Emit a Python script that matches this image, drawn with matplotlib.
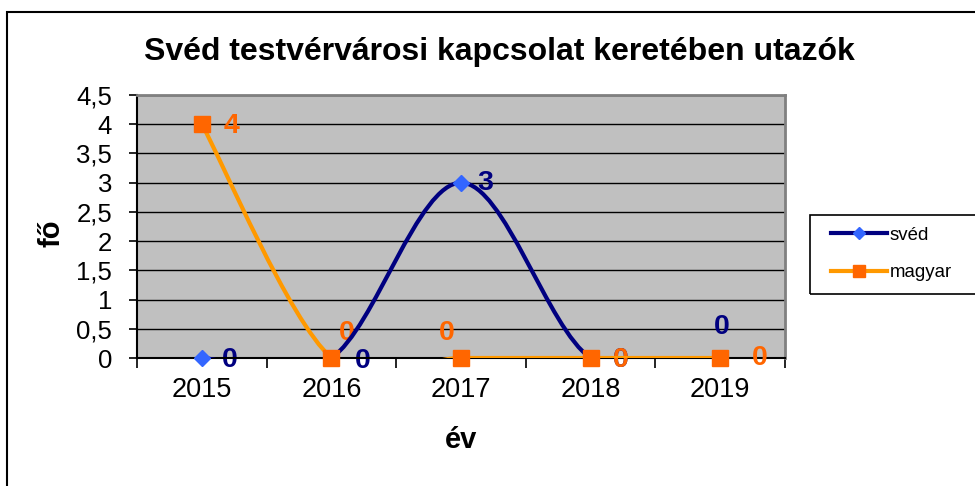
import matplotlib
matplotlib.use("Agg")
import matplotlib.pyplot as plt
from matplotlib.path import Path
from matplotlib.patches import PathPatch, Rectangle
from matplotlib.lines import Line2D
from matplotlib.ticker import FuncFormatter

plt.rcParams['font.family'] = ['Liberation Sans', 'DejaVu Sans']

# adatok
evek = ['2015', '2016', '2017', '2018', '2019']
sved = [0, 0, 3, 0, 0]
magyar = [4, 0, 0, 0, 0]

# feliratok eltolása (pixel)
sved_offsets = [(28, -2), (31, -3), (24, 0), (30, -2), (2, 31)]
magyar_offsets = [(30, -2), (15, 25), (-14, 25), (30, -2), (40, 0)]

W, H = 975, 486


def fx(x):
    return x / W


def fy(y):
    return 1 - y / H


def smooth_path(xs, ys):
    # Excel-szerű simított vonal (Catmull-Rom -> Bezier)
    n = len(xs)
    verts = [(xs[0], ys[0])]
    codes = [Path.MOVETO]
    for i in range(n - 1):
        a = max(i - 1, 0)
        b = min(i + 2, n - 1)
        c1 = (xs[i] + (xs[i + 1] - xs[a]) / 6, ys[i] + (ys[i + 1] - ys[a]) / 6)
        c2 = (xs[i + 1] - (xs[b] - xs[i]) / 6, ys[i + 1] - (ys[b] - ys[i]) / 6)
        verts += [c1, c2, (xs[i + 1], ys[i + 1])]
        codes += [Path.CURVE4] * 3
    return Path(verts, codes)


fig = plt.figure(figsize=(9.75, 4.86), dpi=100)
fig.patches.append(Rectangle((fx(7), fy(600)), 2, fy(12) - fy(600), transform=fig.transFigure,
                             fill=False, edgecolor='black', lw=1.5))

ax = fig.add_axes([fx(137), fy(358), fx(785) - fx(137), fy(95) - fy(358)])
ax.set_facecolor('#C0C0C0')
ax.set_xlim(-0.5, 4.5)
ax.set_ylim(0, 4.5)

x = list(range(len(evek)))

ax.add_patch(PathPatch(smooth_path(x, sved), fill=False, edgecolor='#000080', lw=3, zorder=3))
ax.plot(x, sved, linestyle='none', marker='D', color='#3366FF', markersize=8, zorder=4,
        clip_on=False)
ax.add_patch(PathPatch(smooth_path(x, magyar), fill=False, edgecolor='#FF9900', lw=3, zorder=5))
ax.plot(x, magyar, linestyle='none', marker='s', color='#FF6600', markersize=11, zorder=6,
        clip_on=False)

for i in x:
    ax.annotate(str(sved[i]), (i, sved[i]), xytext=sved_offsets[i], textcoords='offset pixels',
                ha='center', va='center', fontsize=20.5, fontweight='bold', color='#000080',
                annotation_clip=False, zorder=2.5)
    ax.annotate(str(magyar[i]), (i, magyar[i]), xytext=magyar_offsets[i], textcoords='offset pixels',
                ha='center', va='center', fontsize=20.5, fontweight='bold', color='#FF6600',
                annotation_clip=False, zorder=2.6)

ax.set_yticks([i * 0.5 for i in range(10)])
ax.yaxis.set_major_formatter(FuncFormatter(lambda v, p: ('%g' % v).replace('.', ',')))
ax.yaxis.grid(True, color='black', lw=1)
ax.set_axisbelow(True)
ax.tick_params(axis='y', direction='out', length=6, width=1.2, pad=12, labelsize=18.5)

ax.set_xticks([i - 0.5 for i in range(6)])
ax.set_xticklabels([])
ax.set_xticks(x, minor=True)
ax.set_xticklabels(evek, minor=True)
ax.tick_params(axis='x', which='major', direction='out', length=7, width=1.2)
ax.tick_params(axis='x', which='minor', length=0, pad=14, labelsize=19.5)

for s in ['top', 'right']:
    ax.spines[s].set_color('#808080')
    ax.spines[s].set_linewidth(2)
for s in ['left', 'bottom']:
    ax.spines[s].set_color('black')
    ax.spines[s].set_linewidth(1.5)

fig.text(fx(499), fy(52), 'Svéd testvérvárosi kapcsolat keretében utazók',
         ha='center', va='center', fontsize=23, fontweight='bold')
fig.text(fx(52), fy(233), 'fő', ha='center', va='center', rotation=90,
         fontsize=21, fontweight='bold')
fig.text(fx(461), fy(440), 'év', ha='center', va='center', fontsize=21, fontweight='bold')

# jelmagyarázat
fig.patches.append(Rectangle((fx(810), fy(294)), fx(1000) - fx(810), fy(215) - fy(294),
                             transform=fig.transFigure, fill=False, edgecolor='black', lw=1.2))
handles = [
    Line2D([], [], color='#000080', lw=3, marker='D', markerfacecolor='#3366FF',
           markeredgecolor='#3366FF', markersize=6),
    Line2D([], [], color='#FF9900', lw=3, marker='s', markerfacecolor='#FF6600',
           markeredgecolor='#FF6600', markersize=8),
]
fig.legend(handles, ['svéd', 'magyar'], loc='center left',
           bbox_to_anchor=(fx(822), fy(254)), frameon=False, fontsize=13.4,
           handlelength=3.0, handletextpad=0.15, labelspacing=1.1, borderpad=0)

fig.savefig('out.png', dpi=100)
